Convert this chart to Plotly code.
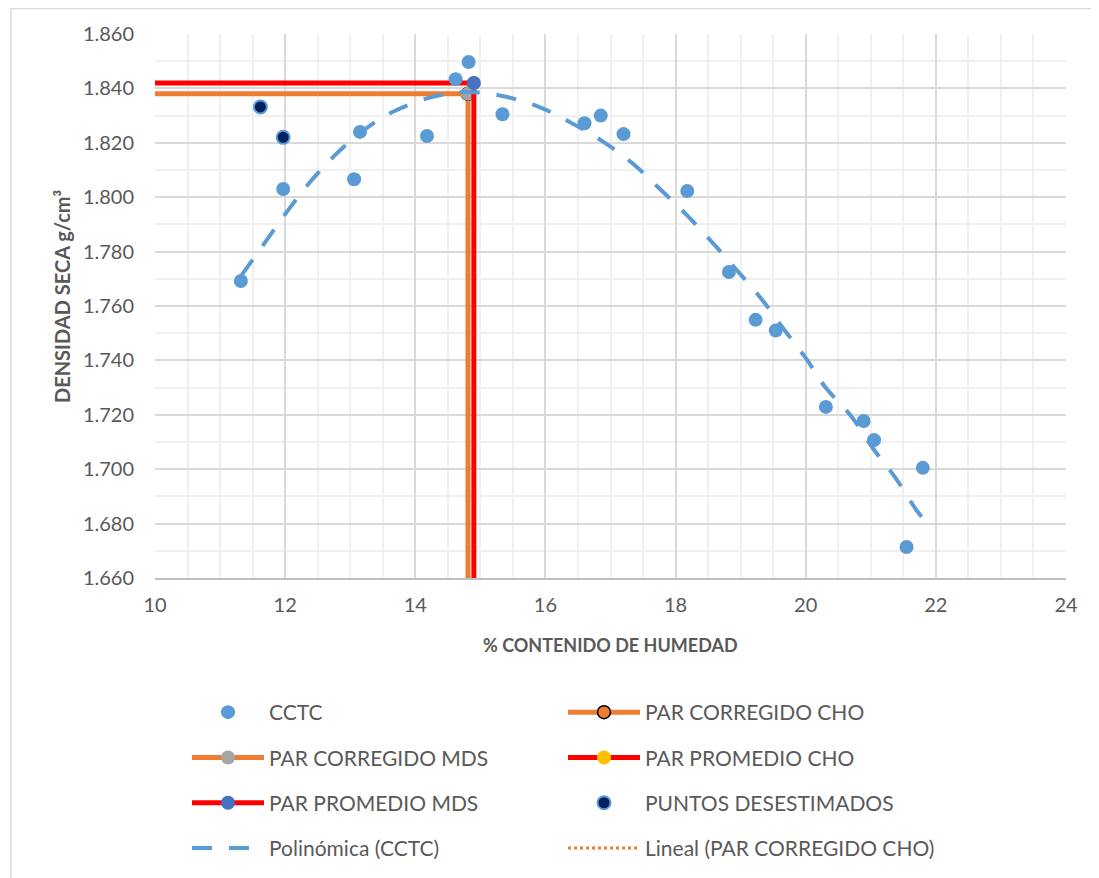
import plotly.graph_objects as go

# datos
cctc_x = [11.32, 11.97, 13.06, 13.15, 14.18, 14.62, 14.82, 15.34, 16.60, 16.85,
          17.20, 18.18, 18.82, 19.23, 19.54, 20.31, 20.89, 21.05, 21.80, 21.55]
cctc_y = [1.7692, 1.8030, 1.8066, 1.8240, 1.8225, 1.8434, 1.8497, 1.8305, 1.8272, 1.8300,
          1.8232, 1.8023, 1.7725, 1.7549, 1.7510, 1.7229, 1.7177, 1.7107, 1.7005, 1.6714]

desest_x = [11.62, 11.97]
desest_y = [1.8332, 1.8220]

# curva polinomica (CCTC)
poly_x = [11.32, 11.68, 12.02, 12.37, 12.75, 13.20, 13.65, 14.25, 14.75, 15.30, 15.87, 16.40,
          16.88, 17.35, 17.76, 18.17, 18.56, 18.94, 19.32, 19.65, 20.00, 20.30, 20.70, 21.03,
          21.38, 21.70, 21.80]
poly_y = [1.7710, 1.7830, 1.7944, 1.8052, 1.8151, 1.8245, 1.8313, 1.8368, 1.8387, 1.8374,
          1.8335, 1.8273, 1.8205, 1.8122, 1.8030, 1.7935, 1.7835, 1.7732, 1.7626, 1.7519,
          1.7409, 1.7302, 1.7195, 1.7078, 1.6968, 1.6850, 1.6820]

# pares optimos (corregido / promedio)
cho_corr, mds_corr = 14.81, 1.838
cho_prom, mds_prom = 14.90, 1.842

x_ticks = [10, 12, 14, 16, 18, 20, 22, 24]
y_ticks = [1.66, 1.68, 1.70, 1.72, 1.74, 1.76, 1.78, 1.80, 1.82, 1.84, 1.86]

BLUE = '#5B9BD5'
ORANGE = '#ED7D31'
RED = '#FF0000'
GRAY_TXT = '#595959'
FONT = 'Lato'

fig = go.Figure()

# Lineal (PAR CORREGIDO CHO) - queda oculta bajo la linea vertical
fig.add_trace(go.Scatter(
    x=[cho_corr, cho_corr], y=[mds_corr, 0], mode='lines',
    line=dict(color=ORANGE, width=3, dash='dot'),
    name='Lineal (PAR CORREGIDO CHO)', legend='legend2', legendrank=4))

fig.add_trace(go.Scatter(
    x=[cho_corr, cho_corr], y=[mds_corr, 0], mode='lines+markers',
    line=dict(color=ORANGE, width=5),
    marker=dict(color=ORANGE, size=13, line=dict(color='black', width=1.5)),
    name='PAR CORREGIDO CHO', legend='legend2', legendrank=1))
fig.add_trace(go.Scatter(
    x=[0, cho_corr], y=[mds_corr, mds_corr], mode='lines+markers',
    line=dict(color=ORANGE, width=5),
    marker=dict(color='#A5A5A5', size=14),
    name='PAR CORREGIDO MDS', legend='legend', legendrank=2))

fig.add_trace(go.Scatter(
    x=[cho_prom, cho_prom], y=[mds_prom, 0], mode='lines+markers',
    line=dict(color=RED, width=5),
    marker=dict(color='#FFC000', size=14),
    name='PAR PROMEDIO CHO', legend='legend2', legendrank=2))
fig.add_trace(go.Scatter(
    x=[0, cho_prom], y=[mds_prom, mds_prom], mode='lines+markers',
    line=dict(color=RED, width=5),
    marker=dict(color='#4472C4', size=14),
    name='PAR PROMEDIO MDS', legend='legend', legendrank=3))

fig.add_trace(go.Scatter(
    x=desest_x, y=desest_y, mode='markers',
    marker=dict(color='#002060', size=13, line=dict(color=BLUE, width=2)),
    name='PUNTOS DESESTIMADOS', legend='legend2', legendrank=3))

fig.add_trace(go.Scatter(
    x=cctc_x, y=cctc_y, mode='markers',
    marker=dict(color=BLUE, size=14),
    name='CCTC', legend='legend', legendrank=1))

fig.add_trace(go.Scatter(
    x=poly_x, y=poly_y, mode='lines', line_shape='spline',
    line=dict(color=BLUE, width=4, dash='20px,17px'),
    name='Polinómica (CCTC)', legend='legend', legendrank=4))

for tr in fig.data:
    tr.legendgroup = tr.name

leg_common = dict(
    xref='container', yref='container', xanchor='left', yanchor='top',
    orientation='v', itemwidth=72, tracegroupgap=15,
    font=dict(family=FONT, size=21, color=GRAY_TXT),
    bgcolor='rgba(0,0,0,0)', itemclick=False)

# area de trazado: 147..1058 px en x, 26..570 px en y (figura 1099x878)
fig.update_layout(
    width=1099, height=878,
    paper_bgcolor='white', plot_bgcolor='white',
    margin=dict(l=147, r=41, t=26, b=308, autoexpand=False),
    font=dict(family=FONT, color=GRAY_TXT),
    showlegend=True,
    legend=dict(x=179 / 1099, y=1 - 684 / 878, **leg_common),
    legend2=dict(x=555 / 1099, y=1 - 684 / 878, **leg_common),
    shapes=[dict(type='rect', xref='paper', yref='paper',
                 x0=-144 / 911, x1=1.2, y0=-1.0, y1=1 + 25.5 / 544,
                 line=dict(color='#D9D9D9', width=1.5), layer='below')],
    annotations=[
        dict(text='<b>% CONTENIDO DE HUMEDAD</b>', xref='paper', yref='paper',
             x=0.5, y=-67 / 544, xanchor='center', yanchor='middle', showarrow=False,
             font=dict(family=FONT, size=18, color=GRAY_TXT)),
        dict(text='<b>DENSIDAD SECA g/cm³</b>', xref='paper', yref='paper',
             x=-93 / 911, y=281 / 544, xanchor='center', yanchor='middle', showarrow=False,
             textangle=-90, font=dict(family=FONT, size=20, color=GRAY_TXT)),
    ],
)

fig.update_xaxes(
    range=[10, 24], tickvals=x_ticks, ticks='',
    tickfont=dict(size=20, color=GRAY_TXT),
    showgrid=True, gridcolor='#D9D9D9', gridwidth=1.5,
    minor=dict(dtick=0.5, showgrid=True, gridcolor='#F0F0F0', gridwidth=1.5),
    showline=True, linecolor='#BFBFBF', linewidth=1.5,
    zeroline=False, ticklabelstandoff=8)

fig.update_yaxes(
    range=[1.66, 1.86], tickvals=y_ticks, tickformat='.3f', ticks='',
    tickfont=dict(size=20, color=GRAY_TXT),
    showgrid=True, gridcolor='#D9D9D9', gridwidth=1.5,
    minor=dict(dtick=0.01, showgrid=True, gridcolor='#F0F0F0', gridwidth=1.5),
    zeroline=False, ticklabelstandoff=20)

fig.write_html("out.html")
